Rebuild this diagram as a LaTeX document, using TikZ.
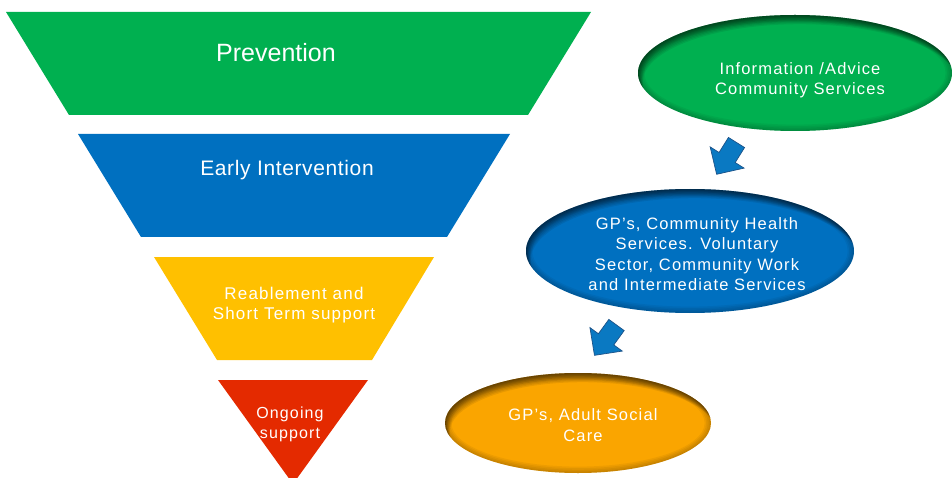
\documentclass[tikz,border=0pt]{standalone}
\usepackage{fontspec}
\setmainfont{Liberation Sans}
\newfontfamily\trackfont[LetterSpace=7]{Liberation Sans}
\newfontfamily\lighttrack[LetterSpace=3]{Liberation Sans}

\definecolor{tiergreen}{HTML}{00B050}
\definecolor{tierblue}{HTML}{0070C0}
\definecolor{tieryellow}{HTML}{FFC000}
\definecolor{tierred}{HTML}{E42A00}
\definecolor{ovalorange}{HTML}{FAA500}
\definecolor{arrowblue}{HTML}{0A79C2}
\definecolor{arrowedge}{HTML}{1C5288}

\tikzset{
  tiertext/.style={text=white, align=center, inner sep=0pt},
  ovaltext/.style={text=white, align=center, inner sep=0pt,
    font=\trackfont\fontsize{16.5}{20.5}\selectfont},
  arrowbody/.style={fill=arrowblue, draw=arrowedge, line width=0.7pt, line join=miter},
  blockarrow/.pic={
    \filldraw[arrowbody] (0,-9.5) -- (17.7,-9.5) -- (17.7,-20) -- (37.5,0)
      -- (17.7,20) -- (17.7,9.5) -- (0,9.5) -- cycle;
  }
}

% oval with a soft inner shadow, strongest at the upper left:
% a faint glow all round plus darkening outside copies moved down and right
% #1 name, #2/#3 centre, #4/#5 radii, #6 colour, #7 text, #8 text centre
\newcommand\shadedoval[8]{%
  \fill[#6] (#2,#3) ellipse [x radius=#4, y radius=#5];
  \begin{scope}
    \clip (#2,#3) ellipse [x radius=#4, y radius=#5];
    \foreach \k in {1,...,4}
      \fill[black, opacity=0.05, even odd rule]
        (#2-#4-6,#3-#5-6) rectangle (#2+#4+6,#3+#5+6)
        (#2,#3) ellipse [x radius={#4-1.6*\k}, y radius={#5-1.6*\k}];
    \foreach \k in {1,...,8}
      \fill[black, opacity=0.075, even odd rule]
        (#2-#4-6,#3-#5-6) rectangle (#2+#4+6,#3+#5+6)
        (#2+0.6*\k,#3+1.15*\k) ellipse [x radius=#4, y radius=#5];
  \end{scope}
  \node[ovaltext] (#1) at (#8) {#7};
}

\begin{document}
\begin{tikzpicture}[x=1pt, y=-1pt]
  \useasboundingbox (0,0) rectangle (952,478);
  \clip (0,0) rectangle (952,478);

  % funnel of service tiers
  \fill[tiergreen]  (6,12) -- (591,12) -- (528,115) -- (69,115) -- cycle;
  \fill[tierblue]   (78,134) -- (510,134) -- (447,237) -- (141,237) -- cycle;
  \fill[tieryellow] (154,257) -- (434,257) -- (372,360) -- (217,360) -- cycle;
  \fill[tierred]    (218,380) -- (368,380) -- (293,484) -- cycle;

  \node[tiertext, font=\fontsize{25}{30}\selectfont] (prev) at (276,53) {Prevention};
  \node[tiertext, font=\lighttrack\fontsize{21}{25}\selectfont] (early) at (287,170) {Early Intervention};
  \node[tiertext, font=\trackfont\fontsize{17}{20.5}\selectfont] (reab) at (294,305)
    {Reablement and\\Short Term support};
  \node[tiertext, font=\trackfont\fontsize{16}{20}\selectfont] (ongo) at (290,424)
    {Ongoing\\support};

  % services at each level
  \shadedoval{info}{795}{73}{157}{58}{tiergreen}
    {Information /Advice\\Community Services}{800,80}
  \shadedoval{comm}{690}{251}{164}{62}{tierblue}
    {GP’s, Community Health\\Services. Voluntary\\Sector, Community Work\\and Intermediate Services}{697,254}
  \shadedoval{adult}{578}{423}{133}{50}{ovalorange}
    {GP’s, Adult Social\\Care}{583,425}

  % block arrows stepping down between the ovals
  \coordinate (step1) at (736.5,142.5);
  \coordinate (step2) at (616.5,325);
  \pic[rotate=238] at (step1) {blockarrow};
  \pic[rotate=234] at (step2) {blockarrow};
\end{tikzpicture}
\end{document}
